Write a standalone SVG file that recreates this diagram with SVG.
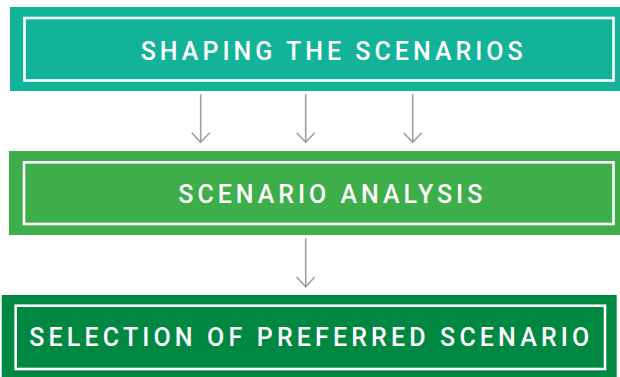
<svg xmlns="http://www.w3.org/2000/svg" width="620" height="377" viewBox="0 0 620 377">
<defs>
<style>
.inner{fill:none;stroke:#ffffff;stroke-width:2.6}
.lbl{font-family:Roboto,"Liberation Sans",sans-serif;font-weight:500;font-size:25px;fill:#ffffff}
.conn{stroke:#a0a0a0;stroke-width:1.6;fill:none}
</style>
</defs>
<rect width="620" height="377" fill="#ffffff"/>
<g id="node-shaping">
<rect x="10" y="7" width="610" height="84" fill="#12b399"/>
<rect class="inner" x="24.5" y="18" width="589" height="62.5"/>
<text class="lbl" x="140.7" y="60" textLength="382" lengthAdjust="spacing">SHAPING THE SCENARIOS</text>
</g>
<g id="node-analysis">
<rect x="9" y="151" width="611" height="84" fill="#3dae4a"/>
<rect class="inner" x="24" y="162.3" width="589.5" height="61.7"/>
<text class="lbl" x="178.3" y="203.3" textLength="304" lengthAdjust="spacing">SCENARIO ANALYSIS</text>
</g>
<g id="node-selection">
<rect x="1.7" y="295" width="615" height="82" fill="#008843"/>
<rect class="inner" x="15.7" y="305.7" width="589.3" height="63.3"/>
<text class="lbl" x="29.3" y="346" textLength="560" lengthAdjust="spacing">SELECTION OF PREFERRED SCENARIO</text>
</g>
<g id="connectors">
<path class="conn" d="M200.7 94.3V142.3M191.7 132.7L200.7 142.3L209.7 132.7"/>
<path class="conn" d="M305.7 94.3V142.3M296.7 132.7L305.7 142.3L314.7 132.7"/>
<path class="conn" d="M412.7 94.3V142.3M403.7 132.7L412.7 142.3L421.7 132.7"/>
<path class="conn" d="M305.7 238.3V286.7M296.7 277L305.7 286.7L314.7 277"/>
</g>
</svg>
